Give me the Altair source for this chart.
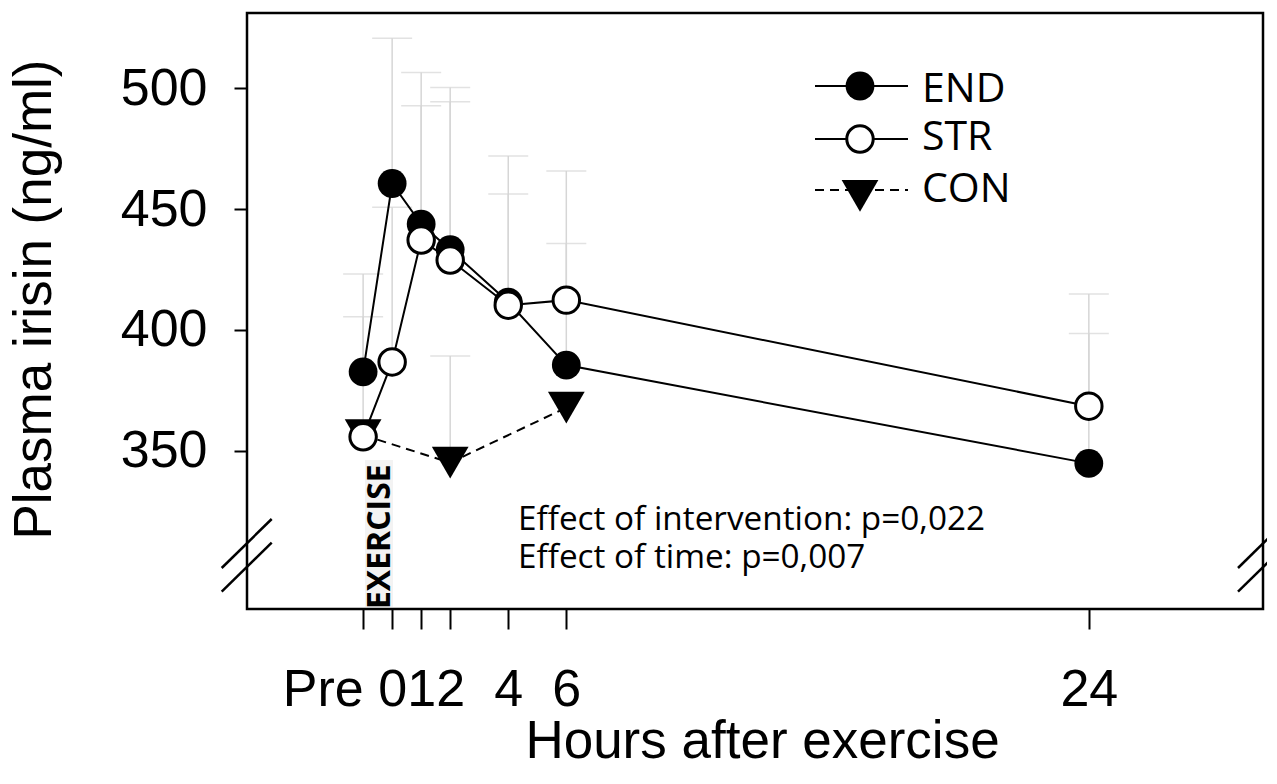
import altair as alt
import pandas as pd

# ---- data ----
hours = [-1, 0, 1, 2, 4, 6, 24]
tick_values = [-1, 0, 1, 2, 4, 6, 24]
end_mean = [382.6, 460.6, 443.8, 433.2, 411.5, 385.4, 344.7]
end_upper = [423.1, 520.7, 506.6, 500.3, 472.0, 435.8, 398.5]
str_mean = [355.7, 386.7, 437.2, 428.9, 410.2, 412.3, 368.4]
str_upper = [405.4, 450.8, 492.8, 494.5, 456.2, 465.8, 414.8]
con_hours = [-1, 2, 6]
con_mean = [356.4, 345.0, 367.8]
con_upper = [None, 389.2, None]
y_ticks = [350, 400, 450, 500]
legend_labels = ["END", "STR", "CON"]
stats_lines = ["Effect of intervention: p=0,022", "Effect of time: p=0,007"]
exercise_label = "EXERCISE"

df_end = pd.DataFrame({"hour": hours, "mean": end_mean, "upper": end_upper})
df_str = pd.DataFrame({"hour": hours, "mean": str_mean, "upper": str_upper})
df_con = pd.DataFrame({"hour": con_hours, "mean": con_mean, "upper": con_upper})
df_con_err = df_con.dropna()

AX_FONT = "Liberation Sans"
TX_FONT = "Open Sans"

x_scale = alt.Scale(domain=[-5, 30], nice=False, zero=False)
y_scale = alt.Scale(domain=[284.4, 531.2], nice=False, zero=False)

x_axis = alt.Axis(
    values=tick_values,
    title="Hours after exercise",
    labelExpr="datum.value == -1 ? 'Pre' : datum.label",
    labelAlign={"condition": {"test": "datum.value == -1", "value": "right"}, "value": "center"},
    labelFont=AX_FONT, labelFontSize=52, labelColor="black",
    labelBaseline="alphabetic", labelPadding=76,
    labelOverlap=False, labelFlush=False, labelBound=False,
    tickSize=20, tickWidth=2, tickColor="black",
    domain=False, grid=False,
    titleFont=AX_FONT, titleFontSize=53, titleFontWeight="normal", titleColor="black",
    titleX=515, titleY=148, titleAlign="center", titleBaseline="alphabetic",
)
y_axis = alt.Axis(
    values=y_ticks,
    title="Plasma irisin (ng/ml)",
    labelFont=AX_FONT, labelFontSize=52, labelColor="black", labelPadding=27,
    tickSize=13, tickWidth=2, tickColor="black",
    domain=False, grid=False,
    titleFont=AX_FONT, titleFontSize=53, titleFontWeight="normal", titleColor="black",
    titleAngle=270, titleX=-197, titleY=286, titleAlign="center", titleBaseline="alphabetic",
)


def X():
    return alt.X("hour:Q", scale=x_scale, axis=x_axis)


def Y(field):
    return alt.Y(f"{field}:Q", scale=y_scale, axis=y_axis)


ERR = "#d6d6d6"


def err_layers(df):
    stem = alt.Chart(df).mark_rule(color=ERR, strokeWidth=1.5).encode(
        x=X(), y=Y("mean"), y2="upper:Q")
    cap = alt.Chart(df).mark_tick(color=ERR, orient="horizontal", size=40, thickness=1.5).encode(
        x=X(), y=Y("upper"))
    return [stem, cap]


layers = []
layers += err_layers(df_end)
layers += err_layers(df_str)
layers += err_layers(df_con_err)

# CON
layers.append(alt.Chart(df_con).mark_line(color="black", strokeWidth=2, strokeDash=[9, 6]).encode(
    x=X(), y=Y("mean")))
layers.append(alt.Chart(df_con).mark_point(shape="triangle-down", filled=True, color="black",
                                            size=1350, opacity=1).encode(x=X(), y=Y("mean")))
# END
layers.append(alt.Chart(df_end).mark_line(color="black", strokeWidth=2).encode(x=X(), y=Y("mean")))
layers.append(alt.Chart(df_end).mark_point(shape="circle", filled=True, color="black", size=830,
                                            opacity=1).encode(x=X(), y=Y("mean")))
# STR
layers.append(alt.Chart(df_str).mark_line(color="black", strokeWidth=2).encode(x=X(), y=Y("mean")))
layers.append(alt.Chart(df_str).mark_point(shape="circle", filled=True, fill="white", stroke="black",
                                            strokeWidth=3, size=700, opacity=1).encode(x=X(), y=Y("mean")))

one = alt.Data(values=[{"k": 0}])

# ---- legend (drawn inside the plot) ----
leg_line_y = [73, 126, 177]
leg_text_y = [88.7, 137, 188.7]
leg_mark_y = [73, 126, 182.8]
leg_dash = [None, None, [9, 6]]
leg_marks = [
    dict(shape="circle", filled=True, color="black", size=830),
    dict(shape="circle", filled=True, fill="white", stroke="black", strokeWidth=3, size=700),
    dict(shape="triangle-down", filled=True, color="black", size=1350),
]
for i, lab in enumerate(legend_labels):
    rule_kw = dict(color="black", strokeWidth=2)
    if leg_dash[i]:
        rule_kw["strokeDash"] = leg_dash[i]
    layers.append(alt.Chart(one).mark_rule(**rule_kw).encode(
        x=alt.value(568), x2=alt.value(661), y=alt.value(leg_line_y[i])))
    layers.append(alt.Chart(one).mark_point(opacity=1, **leg_marks[i]).encode(
        x=alt.value(613), y=alt.value(leg_mark_y[i])))
    layers.append(alt.Chart(one).mark_text(text=lab, font=TX_FONT, fontSize=41, color="black",
                                           align="left", baseline="alphabetic").encode(
        x=alt.value(675), y=alt.value(leg_text_y[i])))

# ---- statistics text ----
for txt, yy in zip(stats_lines, [517, 554.5]):
    layers.append(alt.Chart(one).mark_text(text=txt, font=TX_FONT, fontSize=33.3, color="black",
                                           align="left", baseline="alphabetic").encode(
        x=alt.value(271), y=alt.value(yy)))

# ---- EXERCISE label ----
layers.append(alt.Chart(one).mark_rect(color="#f3f3f3").encode(
    x=alt.value(118), x2=alt.value(146), y=alt.value(447), y2=alt.value(594)))
layers.append(alt.Chart(one).mark_text(text=exercise_label, font=TX_FONT, fontSize=32, fontWeight="bold",
                                       color="black", angle=270, align="center",
                                       baseline="alphabetic").encode(
    x=alt.value(143), y=alt.value(523.7)))

# ---- axis breaks ----
for x0 in [-25.3, 991]:
    for y0, y1 in [(555, 506), (578.7, 529.7)]:
        layers.append(alt.Chart(one).mark_rule(color="black", strokeWidth=2.5).encode(
            x=alt.value(x0), x2=alt.value(x0 + 50), y=alt.value(y0), y2=alt.value(y1)))

chart = alt.layer(*layers).properties(
    width=1016, height=596,
    autosize=alt.AutoSizeParams(type="none"),
    padding={"left": 239, "top": 5, "right": 4, "bottom": 160},
    background="white",
).configure_view(stroke="black", strokeWidth=2.5)

chart.save("out.html", embed_options={"renderer": "svg", "actions": False})
